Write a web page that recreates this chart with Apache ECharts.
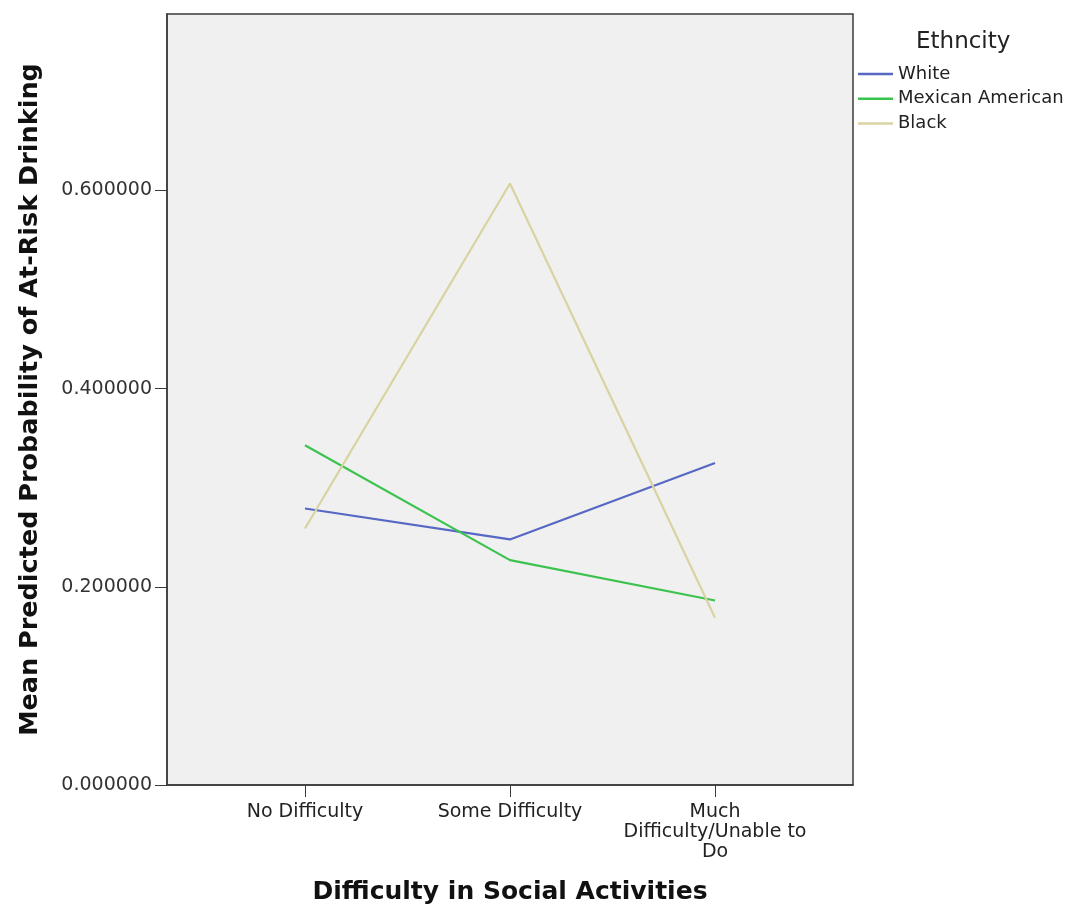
<!DOCTYPE html>
<html>
<head>
<meta charset="utf-8">
<script src="https://cdn.jsdelivr.net/npm/echarts@6/dist/echarts.min.js"></script>
<style>html,body{margin:0;padding:0;background:#fff}#c{width:1075px;height:908px}</style>
</head>
<body>
<div id="c"></div>
<script>
var categories = ['No Difficulty', 'Some Difficulty', 'Much\nDifficulty/Unable to\nDo'];
var seriesNames = ['White', 'Mexican American', 'Black'];
var whiteVals = [0.2790, 0.2478, 0.3250];
var mexicanVals = [0.3428, 0.2269, 0.1862];
var blackVals = [0.2588, 0.6070, 0.1687];
var yTicks = [0, 0.2, 0.4, 0.6];
var colors = ['#5668c4', '#3cc34e', '#d8d3a0'];

var font = 'DejaVu Sans';
function toPts(vals){ return vals.map(function(v,i){ return [i, v]; }); }

var chart = echarts.init(document.getElementById('c'));
chart.setOption({
  animation: false,
  backgroundColor: '#ffffff',
  title: {
    text: 'Ethncity', left: 916, top: 31, padding: 0,
    textStyle: { fontFamily: font, fontSize: 23, fontWeight: 'normal', color: '#222' }
  },
  legend: {
    orient: 'vertical', left: 858, top: 65, padding: 0,
    icon: 'rect', itemWidth: 35, itemHeight: 2.5, itemGap: 6.8,
    data: seriesNames,
    textStyle: { fontFamily: font, fontSize: 18, lineHeight: 18, color: '#222' }
  },
  grid: {
    left: 167, right: 222, top: 14, bottom: 123, outerBoundsMode: 'none', containLabel: false,
    show: true, backgroundColor: '#f0f0f0', borderColor: '#3a3a3a', borderWidth: 1.5
  },
  xAxis: {
    type: 'value', min: -0.673, max: 2.673,
    name: 'Difficulty in Social Activities', nameLocation: 'middle', nameGap: 95,
    nameTextStyle: { fontFamily: font, fontSize: 25, fontWeight: 'bold', color: '#111' },
    axisLine: { show: true, onZero: false, lineStyle: { color: '#3a3a3a', width: 1.5 } },
    axisTick: { show: true, length: 12, customValues: [0, 1, 2], lineStyle: { color: '#3a3a3a' } },
    axisLabel: {
      customValues: [0, 1, 2], margin: 17,
      fontFamily: font, fontSize: 19, color: '#222', lineHeight: 20,
      formatter: function(v){ return categories[Math.round(v)]; }
    },
    splitLine: { show: false }
  },
  yAxis: {
    type: 'value', min: 0, max: 0.778, interval: 0.2,
    name: 'Mean Predicted Probability of At-Risk Drinking', nameLocation: 'middle', nameGap: 124,
    nameTextStyle: { fontFamily: font, fontSize: 25.5, fontWeight: 'bold', color: '#111' },
    axisLine: { show: true, onZero: false, lineStyle: { color: '#3a3a3a', width: 1.5 } },
    axisTick: { show: true, length: 12, customValues: yTicks, lineStyle: { color: '#3a3a3a' } },
    axisLabel: {
      customValues: yTicks, margin: 15,
      fontFamily: font, fontSize: 19, color: '#333',
      formatter: function(v){ return v.toFixed(6); }
    },
    splitLine: { show: false }
  },
  series: [
    { name: seriesNames[0], type: 'line', data: toPts(whiteVals), symbol: 'none', lineStyle: { color: colors[0], width: 2.2 }, itemStyle: { color: colors[0] } },
    { name: seriesNames[1], type: 'line', data: toPts(mexicanVals), symbol: 'none', lineStyle: { color: colors[1], width: 2.2 }, itemStyle: { color: colors[1] } },
    { name: seriesNames[2], type: 'line', data: toPts(blackVals), symbol: 'none', lineStyle: { color: colors[2], width: 2.2 }, itemStyle: { color: colors[2] } }
  ]
});
</script>
</body>
</html>
